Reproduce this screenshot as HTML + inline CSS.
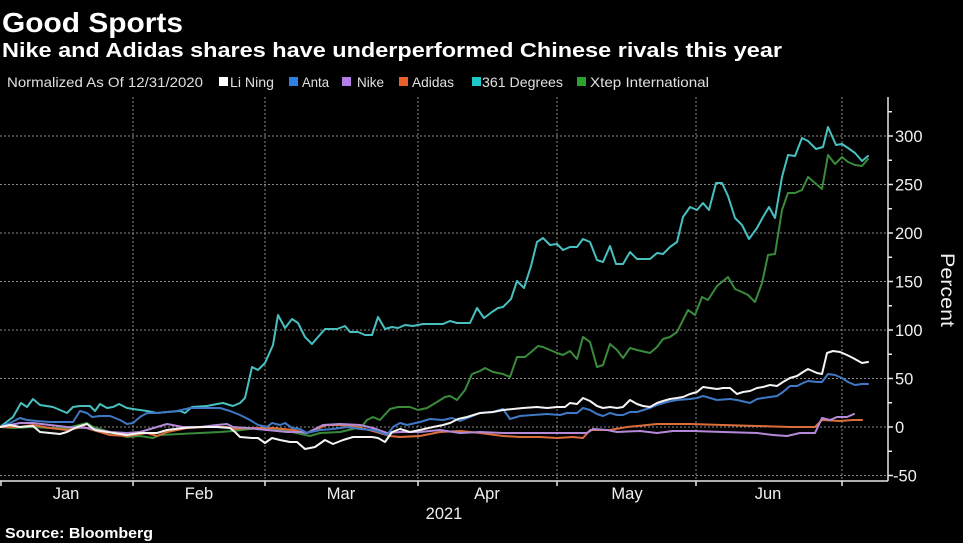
<!DOCTYPE html>
<html><head><meta charset="utf-8"><style>
html,body{margin:0;padding:0;background:#000;}
svg{display:block;}
text{font-family:"Liberation Sans",sans-serif;}
</style></head><body>
<svg width="963" height="543" viewBox="0 0 963 543" xmlns="http://www.w3.org/2000/svg">
<rect width="963" height="543" fill="#000"/>
<text x="2" y="32" font-size="28" font-weight="bold" fill="#fff" textLength="181" lengthAdjust="spacingAndGlyphs">Good Sports</text>
<text x="2" y="57" font-size="20" font-weight="bold" fill="#fff" textLength="780" lengthAdjust="spacingAndGlyphs">Nike and Adidas shares have underperformed Chinese rivals this year</text>
<g font-size="14" fill="#e0e0e0">
<text x="7" y="87" textLength="196" lengthAdjust="spacingAndGlyphs">Normalized As Of 12/31/2020</text>
<rect x="219" y="77" width="9" height="9" fill="#ffffff"/>
<text x="230" y="87" textLength="44" lengthAdjust="spacingAndGlyphs">Li Ning</text>
<rect x="289" y="77" width="9" height="9" fill="#2f80e0"/>
<text x="302" y="87" textLength="27" lengthAdjust="spacingAndGlyphs">Anta</text>
<rect x="342" y="77" width="9" height="9" fill="#b47ee6"/>
<text x="357" y="87" textLength="27" lengthAdjust="spacingAndGlyphs">Nike</text>
<rect x="399" y="77" width="9" height="9" fill="#e8602a"/>
<text x="412" y="87" textLength="42" lengthAdjust="spacingAndGlyphs">Adidas</text>
<rect x="472" y="77" width="9" height="9" fill="#1ec8c8"/>
<text x="482" y="87" textLength="81" lengthAdjust="spacingAndGlyphs">361 Degrees</text>
<rect x="577" y="77" width="9" height="9" fill="#2ea02e"/>
<text x="590" y="87" textLength="119" lengthAdjust="spacingAndGlyphs">Xtep International</text>
</g>
<!-- gridlines -->
<g stroke="#8a8a8a" stroke-width="1" stroke-dasharray="2,2" fill="none">
<line x1="0" y1="136" x2="888" y2="136"/>
<line x1="0" y1="184.5" x2="888" y2="184.5"/>
<line x1="0" y1="233" x2="888" y2="233"/>
<line x1="0" y1="281.5" x2="888" y2="281.5"/>
<line x1="0" y1="330" x2="888" y2="330"/>
<line x1="0" y1="378.5" x2="888" y2="378.5"/>
<line x1="0" y1="427" x2="888" y2="427"/>
<line x1="0" y1="475.5" x2="888" y2="475.5"/>
<line x1="133" y1="97" x2="133" y2="481"/>
<line x1="265" y1="97" x2="265" y2="481"/>
<line x1="418" y1="97" x2="418" y2="481"/>
<line x1="557" y1="97" x2="557" y2="481"/>
<line x1="696" y1="97" x2="696" y2="481"/>
<line x1="842" y1="97" x2="842" y2="481"/>
</g>
<!-- axes -->
<g stroke="#e8e8e8" stroke-width="1.5" fill="none">
<line x1="0" y1="481" x2="888" y2="481"/>
<line x1="888" y1="97" x2="888" y2="481"/>
<line x1="1" y1="481" x2="1" y2="486"/>
<line x1="133" y1="481" x2="133" y2="486"/>
<line x1="265" y1="481" x2="265" y2="486"/>
<line x1="418" y1="481" x2="418" y2="486"/>
<line x1="557" y1="481" x2="557" y2="486"/>
<line x1="696" y1="481" x2="696" y2="486"/>
<line x1="842" y1="481" x2="842" y2="486"/>
<line x1="888" y1="111.75" x2="892" y2="111.75"/>
<line x1="888" y1="136" x2="893" y2="136"/>
<line x1="888" y1="160.25" x2="892" y2="160.25"/>
<line x1="888" y1="184.5" x2="893" y2="184.5"/>
<line x1="888" y1="208.75" x2="892" y2="208.75"/>
<line x1="888" y1="233" x2="893" y2="233"/>
<line x1="888" y1="257.25" x2="892" y2="257.25"/>
<line x1="888" y1="281.5" x2="893" y2="281.5"/>
<line x1="888" y1="305.75" x2="892" y2="305.75"/>
<line x1="888" y1="330" x2="893" y2="330"/>
<line x1="888" y1="354.25" x2="892" y2="354.25"/>
<line x1="888" y1="378.5" x2="893" y2="378.5"/>
<line x1="888" y1="402.75" x2="892" y2="402.75"/>
<line x1="888" y1="427" x2="893" y2="427"/>
<line x1="888" y1="451.25" x2="892" y2="451.25"/>
<line x1="888" y1="475.5" x2="893" y2="475.5"/>
</g>
<g font-size="16.5" fill="#f0f0f0">
<text x="895" y="142">300</text>
<text x="895" y="190.5">250</text>
<text x="895" y="239">200</text>
<text x="895" y="287.5">150</text>
<text x="895" y="336">100</text>
<text x="895" y="384.5">50</text>
<text x="895" y="433">0</text>
<text x="893" y="481.5">-50</text>
</g>
<text transform="translate(941,253) rotate(90)" x="0" y="0" font-size="19" fill="#f0f0f0" textLength="74" lengthAdjust="spacingAndGlyphs">Percent</text>
<g font-size="16.5" fill="#f0f0f0" text-anchor="middle">
<text x="66" y="499">Jan</text>
<text x="199" y="499">Feb</text>
<text x="341" y="499">Mar</text>
<text x="487" y="499">Apr</text>
<text x="627" y="499">May</text>
<text x="768" y="499">Jun</text>
<text x="444" y="519">2021</text>
</g>
<text x="5" y="538" font-size="15" font-weight="bold" fill="#fff" textLength="148" lengthAdjust="spacingAndGlyphs">Source: Bloomberg</text>
<!-- series -->
<g fill="none" stroke-width="2" stroke-linejoin="round" stroke-linecap="round">
<polyline stroke="#3a8a3c" points="0,427 13,428 33,427 50,428 67,428 87,423 93,427 110,432 127,437 140,436 153,438 160,435 180,434 200,433 220,432 233,431 260,428 283,430 310,436 320,433 340,432 353,429 363,425 367,420 373,417 380,420 390,409 398,407 410,407 418,410 427,408 437,402 445,397 450,396 457,400 465,390 472,374 480,371 485,368 493,372 503,374 510,377 517,357 525,357 530,353 538,346 543,347 557,353 563,355 570,351 577,359 583,337 590,342 597,367 603,365 610,344 617,350 623,358 630,348 637,350 650,353 657,347 663,339 670,337 677,332 683,320 688,310 695,315 702,297 708,300 717,286 728,277 735,289 742,292 748,295 755,302 762,283 768,255 775,254 782,210 788,193 795,193 802,190 808,177 815,183 822,189 828,155 835,164 842,157 848,162 855,165 862,166 868,159"/>
<polyline stroke="#48c0c0" points="0,427 13,417 21,403 27,407 33,399 40,405 53,407 67,413 73,407 80,406 90,406 95,411 100,404 107,408 113,407 119,404 127,408 133,409 147,411 157,413 167,412 180,411 185,413 192,407 207,406 217,404 223,403 233,406 240,403 245,398 252,367 258,370 265,363 273,345 278,315 285,328 292,319 298,323 305,337 312,344 318,337 325,329 337,329 345,326 350,332 358,332 365,335 372,335 378,317 385,329 392,327 398,328 405,325 413,326 423,324 443,324 450,321 457,323 470,323 477,308 484,318 492,312 498,308 503,307 511,299 517,281 524,288 531,266 537,242 543,238 550,245 557,244 563,250 570,247 577,247 583,239 590,242 597,260 603,262 610,246 616,264 623,264 630,252 637,259 650,259 657,253 663,254 670,247 677,242 683,217 690,207 697,210 703,203 709,210 716,183 722,183 728,196 735,218 742,225 749,239 757,228 763,217 769,207 775,218 782,177 788,155 795,156 802,138 808,141 816,149 823,147 828,127 836,145 842,144 848,148 855,153 862,161 868,156"/>
<polyline stroke="#dc6e3c" points="0,427 20,427 33,425 50,428 67,430 83,427 100,432 110,435 127,436 147,433 157,436 167,432 187,428 207,427 227,427 233,429 253,428 273,428 293,430 307,433 327,425 340,425 357,427 373,431 390,436 400,437 420,436 440,432 460,431 480,433 503,436 520,437 540,437 557,438 573,437 583,438 590,430 610,430 627,427 657,424 690,424 723,425 757,426 790,427 815,427 822,420 840,421 853,420 862,420"/>
<polyline stroke="#b48ad8" points="0,427 20,423 33,423 50,425 67,427 87,428 110,432 127,433 140,432 157,427 167,424 183,427 200,427 217,425 227,424 233,427 247,428 267,430 287,432 300,432 307,433 323,425 340,424 360,425 373,428 387,433 400,432 420,432 440,430 460,433 480,432 503,433 523,433 540,433 557,433 573,433 587,433 593,429 607,430 617,432 640,431 657,433 673,431 693,431 723,432 757,433 773,435 787,436 800,433 815,433 822,418 830,420 837,417 847,417 854,414"/>
<polyline stroke="#3f78c4" points="0,427 10,423 20,418 27,420 37,421 50,422 63,422 73,422 80,411 87,413 92,417 100,416 110,416 120,420 127,424 133,423 140,417 147,413 157,413 167,412 177,411 190,408 207,408 220,408 230,411 240,415 250,420 258,425 267,427 272,423 280,425 285,423 292,428 300,429 307,433 320,430 333,429 347,427 360,429 373,430 380,432 387,435 393,427 400,423 407,425 420,422 430,419 443,420 452,418 460,421 470,417 480,413 493,412 503,409 510,419 520,416 533,415 547,414 560,415 567,413 577,413 583,408 590,410 597,414 603,416 610,413 617,415 623,415 630,412 637,412 650,408 657,405 667,402 677,400 690,399 697,398 703,396 710,398 717,400 730,399 737,400 750,403 757,399 763,398 770,397 777,396 783,392 790,386 797,386 803,383 808,381 817,382 822,382 828,374 835,375 842,378 848,382 855,385 862,384 868,384"/>
<polyline stroke="#f4f4f4" points="0,427 10,425 20,427 33,426 40,432 50,433 60,434 67,432 77,427 87,424 95,430 107,432 127,435 140,433 157,433 167,430 183,428 200,427 217,427 230,428 235,432 240,437 252,438 258,438 265,443 272,438 280,440 290,442 297,442 305,449 315,447 325,440 333,444 343,440 353,437 363,437 372,437 378,438 385,442 392,432 400,429 410,432 420,430 433,427 443,425 450,423 458,419 467,417 480,413 493,412 503,410 513,409 523,408 537,407 547,408 557,407 565,407 570,403 577,404 583,398 590,401 597,406 603,408 610,407 617,408 623,407 630,400 637,404 643,406 650,407 657,403 663,401 670,399 677,398 683,397 690,394 697,392 703,387 710,388 717,389 723,388 730,388 737,394 743,392 750,391 757,388 763,387 770,385 777,386 783,382 790,378 797,376 803,372 808,369 817,373 822,374 827,353 833,351 840,352 847,355 853,358 862,363 868,362"/>
</g>
</svg>
</body></html>
